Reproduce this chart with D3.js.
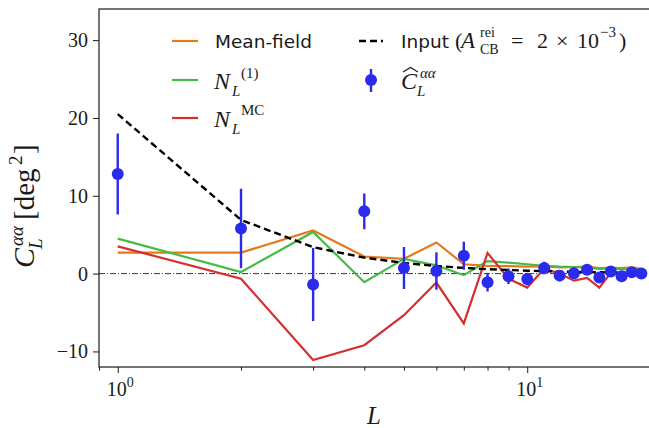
<!DOCTYPE html>
<html>
<head>
<meta charset="utf-8">
<script src="https://cdn.jsdelivr.net/npm/d3@7"></script>
<style>
  body { margin: 0; background: #fff; }
  svg { display: block; }
</style>
</head>
<body>
<svg width="649" height="428"></svg>
<script>
// data
const ells = [1, 2, 3, 4, 5, 6, 7, 8, 9, 10, 11, 12, 13, 14, 15, 16, 17, 18, 19];
const meanField = [2.7, 2.7, 5.55, 2.2, 1.9, 4.0, 1.2, 1.0, 0.95, 0.9, 0.95, 0.8, 0.85, 0.9, 0.7, 0.75, 0.7, 0.8, 0.6];
const nOne = [4.5, 0.2, 5.35, -1.1, 1.9, 1.05, -0.2, 1.6, 1.4, 1.2, 1.0, 0.9, 0.85, 0.75, 0.6, 0.7, 0.55, 0.6, 0.45];
const nMC = [3.5, -0.65, -11.1, -9.2, -5.35, -1.15, -6.4, 2.65, -0.65, -1.8, 0.64, 0.0, -0.9, -0.55, -1.8, 0.1, -0.1, 0.1, -0.2];
const inputCl = [20.5, 6.9, 3.4, 2.05, 1.37, 0.98, 0.73, 0.57, 0.46, 0.37, 0.31, 0.26, 0.22, 0.2, 0.17, 0.15, 0.13, 0.12, 0.11];
const clHat = [12.8, 5.8, -1.4, 8.0, 0.72, 0.33, 2.3, -1.1, -0.35, -0.7, 0.72, -0.26, 0.04, 0.5, -0.5, 0.26, -0.35, 0.17, 0.0];
const clErr = [5.2, 5.1, 4.7, 2.3, 2.7, 2.4, 1.8, 1.2, 1.0, 0.8, 0.8, 0.6, 0.6, 0.6, 0.6, 0.6, 0.6, 0.6, 0.6];
const yTicks = [-10, 0, 10, 20, 30];
const xMajor = [1, 10];
const xMinor = [0.9, 2, 3, 4, 5, 6, 7, 8, 9, 20];

const svg = d3.select('svg');
const margin = { top: 9, left: 99 };
const plotRight = 650.5, plotBottom = 367;
const innerWidth = plotRight - margin.left;
const innerHeight = plotBottom - margin.top;

const serif = "'Liberation Serif', 'DejaVu Serif', serif";
const sans = "'DejaVu Sans', sans-serif";
const ink = "#1a1a1a";
const cOrange = "#e6791c", cGreen = "#44bb44", cRed = "#d62f2f", cBlue = "#2b2bee";

const xscale = d3.scaleLog().domain([0.9, 20]).range([0, innerWidth]);
const yscale = d3.scaleLinear().domain([-12, 34]).range([innerHeight, 0]);

const g = svg.append("g").attr("transform", "translate(" + margin.left + "," + margin.top + ")");

// zero line (dash-dot)
g.append("line")
  .attr("x1", 0).attr("x2", innerWidth)
  .attr("y1", yscale(0)).attr("y2", yscale(0))
  .attr("stroke", "#000").attr("stroke-width", 0.8)
  .attr("stroke-dasharray", "6,2,1,2");

const line = d3.line().x((d, i) => xscale(ells[i])).y(d => yscale(d));

g.append("path").datum(meanField).attr("d", line).attr("fill", "none").attr("stroke", cOrange).attr("stroke-width", 2.2);
g.append("path").datum(nOne).attr("d", line).attr("fill", "none").attr("stroke", cGreen).attr("stroke-width", 2.2);
g.append("path").datum(nMC).attr("d", line).attr("fill", "none").attr("stroke", cRed).attr("stroke-width", 2.2);
g.append("path").datum(inputCl).attr("d", line).attr("fill", "none").attr("stroke", "#000")
  .attr("stroke-width", 2.4).attr("stroke-dasharray", "7,4");

// error bars
g.selectAll(".err").data(clHat).enter().append("line")
  .attr("x1", (d, i) => xscale(ells[i])).attr("x2", (d, i) => xscale(ells[i]))
  .attr("y1", (d, i) => yscale(d - clErr[i])).attr("y2", (d, i) => yscale(d + clErr[i]))
  .attr("stroke", cBlue).attr("stroke-width", 2.4);
g.selectAll(".pt").data(clHat).enter().append("circle")
  .attr("cx", (d, i) => xscale(ells[i])).attr("cy", d => yscale(d))
  .attr("r", 6).attr("fill", cBlue);

// axes
const yaxis = d3.axisLeft(yscale).tickValues(yTicks).tickSize(6).tickPadding(5);
const ya = g.append("g").call(yaxis);
ya.selectAll("text").attr("font-family", serif).attr("font-size", 20).attr("fill", ink);

const xaxis = d3.axisBottom(xscale).tickValues(xMajor).tickSize(6).tickFormat("");
g.append("g").attr("transform", "translate(0," + innerHeight + ")").call(xaxis);
const xminor = d3.axisBottom(xscale).tickValues(xMinor).tickSize(3.5).tickFormat("");
g.append("g").attr("transform", "translate(0," + innerHeight + ")").call(xminor);
g.selectAll(".domain").remove();
g.selectAll(".tick text").filter(function () { return this.textContent === ""; }).remove();
g.selectAll(".tick line").attr("stroke", ink).attr("stroke-width", 1);

// frame
g.append("rect").attr("x", 0).attr("y", 0).attr("width", innerWidth).attr("height", innerHeight)
  .attr("fill", "none").attr("stroke", ink).attr("stroke-width", 1.2);

// small helper for math-like text pieces
function put(parent, x, y, txt, size, opts) {
  opts = opts || {};
  return parent.append("text").attr("x", x).attr("y", y)
    .attr("font-family", opts.family || serif).attr("font-size", size)
    .attr("font-style", opts.italic ? "italic" : null)
    .attr("text-anchor", opts.anchor || null)
    .attr("fill", ink).text(txt);
}

xMajor.forEach((v, i) => {
  const x = xscale(v) + margin.left;
  put(svg, x + 9, plotBottom + 29, "10", 20, { anchor: "end" });
  put(svg, x + 9, plotBottom + 20, String(i), 14);
});

// axis labels
put(svg, 374, 424, "L", 25, { italic: true, anchor: "middle" });

const yl = svg.append("g").attr("transform", "translate(34,268) rotate(-90)");
put(yl, 0, 0, "C", 30, { italic: true });
put(yl, 22, -11, "αα", 19, { italic: true });
put(yl, 19, 8, "L", 19, { italic: true });
put(yl, 48, 0, "[deg", 29);
put(yl, 103, -12, "2", 19);
put(yl, 114, 0, "]", 29);

// legend
const leg = svg.append("g");
function legLine(y, color) {
  leg.append("line").attr("x1", 172).attr("x2", 198).attr("y1", y).attr("y2", y)
    .attr("stroke", color).attr("stroke-width", 2.2);
}
legLine(41, cOrange);
legLine(80, cGreen);
legLine(118, cRed);
put(leg, 215, 48, "Mean-field", 18.5, { family: sans });

put(leg, 214, 89, "N", 24, { italic: true });
put(leg, 241, 78, "(1)", 15);
put(leg, 232, 96, "L", 15, { italic: true });

put(leg, 214, 127, "N", 24, { italic: true });
put(leg, 241, 115, "MC", 15);
put(leg, 232, 134, "L", 15, { italic: true });

leg.append("line").attr("x1", 359).attr("x2", 383).attr("y1", 41).attr("y2", 41)
  .attr("stroke", "#000").attr("stroke-width", 2.4).attr("stroke-dasharray", "7,4");
put(leg, 401, 48, "Input", 18.5, { family: sans });
put(leg, 455, 48, "(", 22);
put(leg, 461, 48, "A", 23, { italic: true });
put(leg, 480, 37, "rei", 14);
put(leg, 480, 54, "CB", 14);
put(leg, 511, 48, "=", 22);
put(leg, 537, 48, "2", 22);
put(leg, 556, 48, "×", 22);
put(leg, 577, 48, "10", 22);
put(leg, 600, 37, "−3", 15);
put(leg, 619, 48, ")", 22);

leg.append("line").attr("x1", 371).attr("x2", 371).attr("y1", 69).attr("y2", 92)
  .attr("stroke", cBlue).attr("stroke-width", 2.4);
leg.append("circle").attr("cx", 371).attr("cy", 80).attr("r", 6).attr("fill", cBlue);
put(leg, 401, 89, "C", 24, { italic: true });
leg.append("path").attr("d", "M403,72 L410.5,67.5 L418,72")
  .attr("fill", "none").attr("stroke", ink).attr("stroke-width", 1.1);
put(leg, 420, 78, "αα", 15, { italic: true });
put(leg, 417, 96, "L", 15, { italic: true });
</script>
</body>
</html>
